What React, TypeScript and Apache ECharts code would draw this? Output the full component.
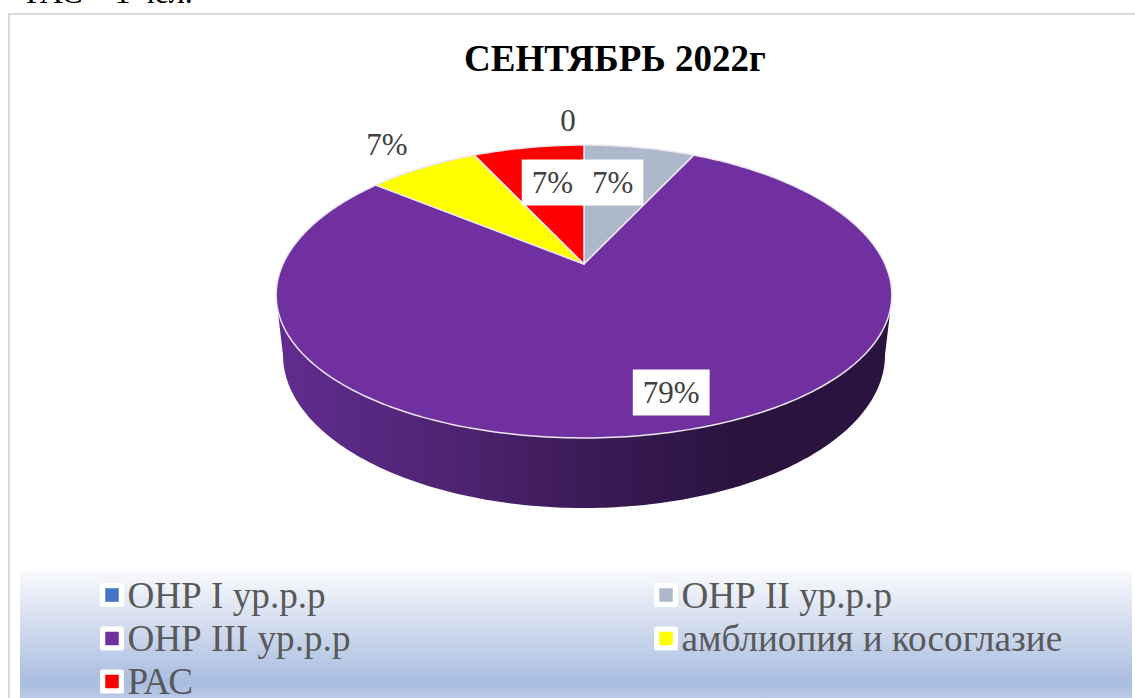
import React, { useEffect, useRef } from "react";
import * as echarts from "echarts";

const categories = ["ОНР I ур.р.р", "ОНР II ур.р.р", "ОНР III ур.р.р", "амблиопия и косоглазие", "РАС"];
const values = [0, 1, 11, 1, 1];
const colors = ["#4472c4", "#adb9ca", "#7030a0", "#ffff00", "#ff0000"];
const titleText = "СЕНТЯБРЬ 2022г";
const captionText = "РАС – 1 чел.";

// label offset from the slice's rim midpoint
const labelOffsets = [[-16, -25], [-27, 35], [3, -40], [-36, -23], [24, 35]];
const labelBoxed = [false, true, true, false, true];
const legendSpots = [[100, 595], [654, 595], [100, 638.5], [654, 638.5], [100, 681.5]];

// perspective disc geometry
const CX = 584, CY = 264, A = 301, KX = 0.21, B = 141.3, K = 0.1877;
const WALL = { cy: 355, rx: 301, ry: 153, topY: 313, topDx: 306 };
const total = values.reduce((a, b) => a + b, 0);
const rad = (d: number) => (d * Math.PI) / 180;

function project(deg: number, r = 1): [number, number] {
  const u = Math.sin(rad(deg)) * r;
  const v = Math.cos(rad(deg)) * r;
  return [CX + (A * u) / (1 + KX * v), CY - (B * v) / (1 + K * v)];
}
function bottomRim(deg: number): [number, number] {
  return [CX + WALL.rx * Math.sin(rad(deg)), WALL.cy - WALL.ry * Math.cos(rad(deg))];
}

const wallFill = () =>
  new echarts.graphic.LinearGradient(
    CX - WALL.rx, 0, CX + WALL.rx, 0,
    [
      { offset: 0, color: "#612c8f" },
      { offset: 0.3, color: "#4c2370" },
      { offset: 0.5, color: "#3b1b57" },
      { offset: 0.75, color: "#2b1340" },
      { offset: 1, color: "#2a133e" },
    ],
    true as any
  );

function sliceRange(i: number): [number, number] {
  const before = values.slice(0, i).reduce((a, b) => a + b, 0);
  return [(before / total) * 360, ((before + values[i]) / total) * 360];
}

function makeRender(i: number) {
  return () => {
    const [a0, a1] = sliceRange(i);
    const children: any[] = [];
    if (values[i] > 0) {
      // visible side wall: front half of the disc
      const f0 = Math.max(a0, 90), f1 = Math.min(a1, 270);
      if (f1 > f0) {
        const pts: number[][] = [];
        pts.push([CX + WALL.topDx, WALL.topY]);
        for (let d = f0; d <= f1; d += 1) pts.push(bottomRim(d));
        pts.push([CX - WALL.topDx, WALL.topY]);
        pts.push([CX, WALL.topY - 20]);
        children.push({ type: "polygon", z2: 1, shape: { points: pts }, style: { fill: wallFill() } });
      }
      const top: number[][] = [[CX, CY]];
      const n = Math.ceil(a1 - a0);
      for (let s = 0; s <= n; s++) top.push(project(a0 + ((a1 - a0) * s) / n));
      children.push({
        type: "polygon",
        z2: 10,
        shape: { points: top },
        style: { fill: colors[i], stroke: "#ece8f2", lineWidth: 1.5, lineJoin: "round" },
      });
    }
    const mid = (a0 + a1) / 2;
    const [rx, ry] = project(mid);
    const pct = values[i] === 0 ? "0" : `${Math.round((values[i] / total) * 100)}%`;
    children.push({
      type: "text",
      z2: 100,
      x: rx + labelOffsets[i][0],
      y: ry + labelOffsets[i][1],
      style: {
        text: pct,
        fontFamily: "Liberation Serif",
        fontSize: 31,
        fill: "#404040",
        align: "center",
        verticalAlign: "middle",
        ...(labelBoxed[i] ? { backgroundColor: "#fff", padding: [8, 10, 7, 10] } : {}),
      },
    });
    return { type: "group", children };
  };
}

export default function App() {
  const ref = useRef<HTMLDivElement>(null);
  useEffect(() => {
    document.body.style.margin = "0";
    const chart = echarts.init(ref.current!, undefined, { renderer: "svg" });
    chart.setOption({
      animation: false,
      backgroundColor: "#fff",
      title: {
        text: titleText,
        left: 464,
        top: 40,
        padding: 0,
        textStyle: { fontFamily: "Liberation Serif", fontSize: 37, fontWeight: "bold", color: "#000" },
      },
      legend: categories.map((name, i) => ({
        data: [name],
        left: legendSpots[i][0],
        top: legendSpots[i][1] - 19,
        padding: 0,
        orient: "horizontal",
        icon: "rect",
        itemWidth: 18.75,
        itemHeight: 18.75,
        selectedMode: false,
        itemStyle: { borderColor: "#fff", borderWidth: 5.25, borderJoin: "round" },
        textStyle: {
          fontFamily: "Liberation Serif",
          fontSize: 37.2,
          color: "#595959",
          padding: [0, 0, 0, 1],
          lineHeight: 38,
        },
      })),
      graphic: [
        { type: "text", z: -1, x: 26, y: -24, style: { text: captionText, fontFamily: "Liberation Serif", fontSize: 32, fill: "#000" } },
        { type: "rect", z: -2, shape: { x: 9, y: 14, width: 1140, height: 700 }, style: { fill: "#fff", stroke: "#d9d9d9", lineWidth: 2 } },
        {
          type: "rect",
          z: -1,
          shape: { x: 20, y: 572, width: 1112, height: 126 },
          style: {
            fill: new echarts.graphic.LinearGradient(0, 0, 0, 1, [
              { offset: 0, color: "#f8f9fd" },
              { offset: 0.5, color: "#cbd7ec" },
              { offset: 0.88, color: "#a9bde1" },
              { offset: 1, color: "#b9c9e7" },
            ]),
          },
        },
      ],
      series: categories.map((name, i) => ({
        type: "custom",
        name,
        coordinateSystem: "none",
        data: [values[i]],
        itemStyle: { color: colors[i] },
        renderItem: makeRender(i),
      })),
    });
    return () => chart.dispose();
  }, []);
  return <div ref={ref} style={{ position: "fixed", left: 0, top: 0, width: 1135, height: 698 }} />;
}
